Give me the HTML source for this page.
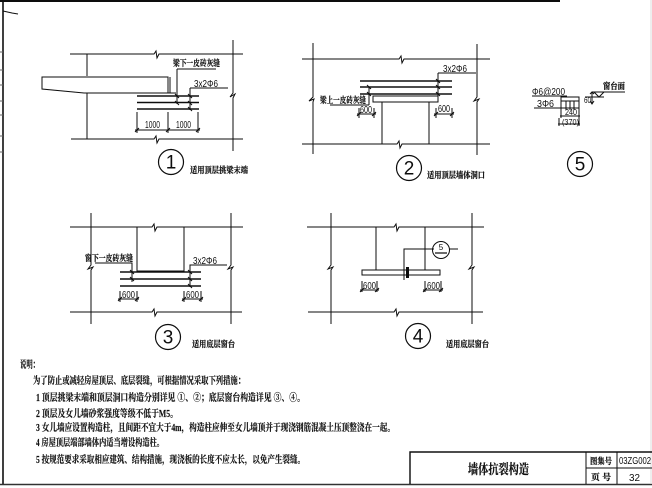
<!DOCTYPE html>
<html lang="zh">
<head>
<meta charset="utf-8">
<title>墙体抗裂构造</title>
<style>
html,body{margin:0;padding:0;background:#fff;width:652px;height:488px;overflow:hidden}
svg{display:block}
text{fill:#111}
.c{font-family:"Liberation Sans","Noto Serif CJK SC",serif;font-weight:700;font-size:8.500px;stroke:#111;stroke-width:.2px}
.n{font-family:"Liberation Sans","Noto Sans CJK SC",sans-serif;font-size:10px}
.b{font-family:"Liberation Serif","Noto Serif CJK SC",serif;font-weight:700;font-size:10px;stroke:#111;stroke-width:.15px}
.d{font-family:"Liberation Sans",sans-serif;font-size:19px;text-anchor:middle}
.t{font-size:13.500px}
.s{font-size:8px}
</style>
</head>
<body>
<svg width="652" height="488" viewBox="0 0 652 488" xmlns="http://www.w3.org/2000/svg">
<defs><filter id="s" x="-2%" y="-2%" width="104%" height="104%"><feGaussianBlur stdDeviation="0.35"/></filter></defs>
<rect width="652" height="488" fill="#fff"/>
<g filter="url(#s)">
<g fill="none" stroke="#111" stroke-width="1">
<!-- frame -->
<path d="M0 1H560" stroke-width="2"/>
<path d="M3 0V484" stroke-width="1.6"/>
<path d="M0 484.500H652" stroke="#333" stroke-width="1.5"/>
<path d="M651 0V484" stroke="#ddd"/>
<path d="M3 11L12 13L18 14" />
<path d="M0 52H3M0 70H3M0 85H3M0 101H3M0 115H3M0 136H3M0 152H3" stroke="#666"/>

<!-- title block -->
<path d="M410 484V452H652" stroke-width="1.4"/>
<path d="M586 452V484M617 452V484M586 468H652"/>

<!-- diagram 1 -->
<path d="M70 54H154L156 51L157 58L159 54H243"/>
<path d="M71 139H154L156 136L157 143L159 139H243"/>
<path d="M233 40V93L230 97L235 94L233 98V151"/>
<path d="M87 54V76M87 93V139"/>
<path d="M42 77H168V93H84L42 89Z"/>
<path d="M168 93H176M170 77V93"/>
<path d="M137 96H199M137 102.500H199M137 109H199" stroke-width="1.5"/>
<path d="M177 69H216M177 69V104M190 88H228M190 88V110"/>
<path d="M137 112V133M168 112V133M198 112V133M135 130H200"/>
<path d="M175 94L179 98M175 101L179 105M188 94L192 98M188 101L192 105M188 107L192 111M135 132L139 128M166 132L170 128M196 132L200 128"/>
<circle cx="171" cy="162" r="12.500" stroke-width="1.2"/>

<!-- diagram 2 -->
<path d="M302 59H399L401 56L402 63L404 59H490"/>
<path d="M302 144H397L399 141L400 148L402 144H490"/>
<path d="M313 43V97L309 101L314 99L313 102V154"/>
<path d="M477 44V97L474 101L479 99L477 102V155"/>
<path d="M360 81H452M360 87H452M360 94H452" stroke-width="1.5"/>
<rect x="373" y="96" width="65" height="6"/>
<path d="M382 102V144M429 102V144"/>
<path d="M438 73H476M438 73V96M369 87V105M330 105H369"/>
<path d="M436 79L440 83M436 85L440 89M436 92L440 96M367 85L371 89M367 92L371 96"/>
<path d="M359 108V118M374 108V118M357 114H376M436 108V118M452 108V118M434 114H454"/>
<path d="M357 116L361 112M372 116L376 112M434 116L438 112M450 116L454 112"/>
<circle cx="409" cy="168" r="12.500" stroke-width="1.2"/>

<!-- diagram 3 -->
<path d="M70 227H152L154 224L155 231L157 227H243"/>
<path d="M70 312H152L154 309L155 316L157 312H242"/>
<path d="M91 213V265L88 269L93 267L91 270V324"/>
<path d="M231 213V265L228 269L233 267L231 270V324"/>
<path d="M137 227V271H184V227"/>
<path d="M120 272H201M120 279H201M120 286H201" stroke-width="1.5"/>
<path d="M95 263H132V282M190 287V265H227"/>
<path d="M130 270L134 274M130 277L134 281M188 270L192 274M188 277L192 281M188 284L192 288"/>
<path d="M120 291V302M137 291V302M118 299H139M184 291V302M201 291V302M182 299H203"/>
<path d="M118 301L122 297M135 301L139 297M182 301L186 297M199 301L203 297"/>
<circle cx="168" cy="337" r="12.500" stroke-width="1.2"/>

<!-- diagram 4 -->
<path d="M307 227H394L396 224L397 231L399 227H484"/>
<path d="M308 312H394L396 309L397 316L399 312H483"/>
<path d="M331 213V265L328 269L333 267L331 270V324"/>
<path d="M472 213V265L469 269L474 267L472 270V324"/>
<rect x="362" y="270" width="78" height="5"/>
<path d="M376 227V270M425 227V270"/>
<path d="M404 280V249H434M449 249H458"/>
<path d="M407.500 267V278" stroke-width="3"/>
<circle cx="441" cy="250" r="8.500"/>
<path d="M435 253H447" stroke-width="1.200"/>
<path d="M362 281V292M377 281V292M360 290H379M425 281V292M441 281V292M423 290H443"/>
<path d="M360 292L364 288M375 292L379 288M423 292L427 288M439 292L443 288"/>
<circle cx="418" cy="336" r="12.500" stroke-width="1.2"/>

<!-- diagram 5 -->
<path d="M532 96H567M534 108H561"/>
<rect x="561" y="97" width="18" height="11"/>
<path d="M561 101H579M566 101V110M570 101V110M574 101V110"/>
<path d="M561 108V118M579 108V118M560 116H580M559 118V126M579 118V126M558 124H580"/>
<path d="M592 92H625M594 92L599 97L604 92M585 97H604M592 92V104"/>
<path d="M590 94L592 92L594 94M590 101L592 104L594 101"/>
<circle cx="580" cy="164" r="12.500" stroke-width="1.2"/>
</g>

<!-- diagram numbers -->
<text class="d" x="171" y="168.500">1</text>
<text class="d" x="409" y="174.500">2</text>
<text class="d" x="168" y="343.500">3</text>
<text class="d" x="418" y="342.500">4</text>
<text class="d" x="580" y="170.500">5</text>
<text class="n s" x="441" y="250" text-anchor="middle">5</text>

<!-- diagram 1 labels -->
<text class="c" x="173" y="66" textLength="47" lengthAdjust="spacingAndGlyphs">梁下一皮砖灰缝</text>
<text class="n" x="194" y="87" textLength="24" lengthAdjust="spacingAndGlyphs">3x2Φ6</text>
<text class="n" x="145" y="128" textLength="15" lengthAdjust="spacingAndGlyphs">1000</text>
<text class="n" x="176" y="128" textLength="15" lengthAdjust="spacingAndGlyphs">1000</text>
<text class="c" x="190" y="173" textLength="58" lengthAdjust="spacingAndGlyphs">适用顶层挑梁末端</text>

<!-- diagram 2 labels -->
<text class="c" x="320" y="103" textLength="46" lengthAdjust="spacingAndGlyphs">梁上一皮砖灰缝</text>
<text class="n" x="443" y="72" textLength="24" lengthAdjust="spacingAndGlyphs">3x2Φ6</text>
<text class="n" x="360" y="113" textLength="12" lengthAdjust="spacingAndGlyphs">600</text>
<text class="n" x="438" y="112" textLength="12" lengthAdjust="spacingAndGlyphs">600</text>
<text class="c" x="427" y="178" textLength="58" lengthAdjust="spacingAndGlyphs">适用顶层墙体洞口</text>

<!-- diagram 3 labels -->
<text class="c" x="85" y="261" textLength="48" lengthAdjust="spacingAndGlyphs">窗下一皮砖灰缝</text>
<text class="n" x="193" y="264" textLength="24" lengthAdjust="spacingAndGlyphs">3x2Φ6</text>
<text class="n" x="122" y="298" textLength="13" lengthAdjust="spacingAndGlyphs">600</text>
<text class="n" x="186" y="298" textLength="13" lengthAdjust="spacingAndGlyphs">600</text>
<text class="c" x="192" y="347" textLength="43" lengthAdjust="spacingAndGlyphs">适用底层窗台</text>

<!-- diagram 4 labels -->
<text class="n" x="363" y="289" textLength="13" lengthAdjust="spacingAndGlyphs">600</text>
<text class="n" x="427" y="289" textLength="13" lengthAdjust="spacingAndGlyphs">600</text>
<text class="c" x="446" y="347" textLength="43" lengthAdjust="spacingAndGlyphs">适用底层窗台</text>

<!-- diagram 5 labels -->
<text class="n" x="532" y="95" textLength="33" lengthAdjust="spacingAndGlyphs">Φ6@200</text>
<text class="n" x="537" y="107" textLength="17" lengthAdjust="spacingAndGlyphs">3Φ6</text>
<text class="n s" x="565" y="115" textLength="12" lengthAdjust="spacingAndGlyphs">240</text>
<text class="n s" x="562" y="125" textLength="17" lengthAdjust="spacingAndGlyphs">(370)</text>
<text class="n s" x="584" y="103" textLength="7" lengthAdjust="spacingAndGlyphs">60</text>
<text class="c" x="603" y="89" textLength="22" lengthAdjust="spacingAndGlyphs">窗台面</text>

<!-- notes -->
<text class="b" x="20" y="368" textLength="19" lengthAdjust="spacingAndGlyphs">说明：</text>
<text class="b" x="33" y="384" textLength="212" lengthAdjust="spacingAndGlyphs">为了防止或减轻房屋顶层、底层裂缝，可根据情况采取下列措施：</text>
<text class="b" x="36" y="401" textLength="269" lengthAdjust="spacingAndGlyphs">1 顶层挑梁末端和顶层洞口构造分别详见 ①、②；底层窗台构造详见 ③、④。</text>
<text class="b" x="36" y="417" textLength="142" lengthAdjust="spacingAndGlyphs">2 顶层及女儿墙砂浆强度等级不低于M5。</text>
<text class="b" x="36" y="431" textLength="359" lengthAdjust="spacingAndGlyphs">3 女儿墙应设置构造柱，且间距不宜大于4m，构造柱应伸至女儿墙顶并于现浇钢筋混凝土压顶整浇在一起。</text>
<text class="b" x="36" y="446" textLength="128" lengthAdjust="spacingAndGlyphs">4 房屋顶层端部墙体内适当增设构造柱。</text>
<text class="b" x="36" y="463" textLength="269" lengthAdjust="spacingAndGlyphs">5 按规范要求采取相应建筑、结构措施，现浇板的长度不应太长，以免产生裂缝。</text>

<!-- title block text -->
<text class="c t" x="468" y="474" textLength="61" lengthAdjust="spacingAndGlyphs">墙体抗裂构造</text>
<text class="c" x="590" y="464" textLength="22" lengthAdjust="spacingAndGlyphs">图集号</text>
<text class="c" x="591" y="480" textLength="20" lengthAdjust="spacingAndGlyphs">页 号</text>
<text class="n" x="619" y="464" textLength="32" lengthAdjust="spacingAndGlyphs">03ZG002</text>
<text class="n" x="629" y="481" textLength="11" lengthAdjust="spacingAndGlyphs">32</text>
</g>
</svg>
</body>
</html>
